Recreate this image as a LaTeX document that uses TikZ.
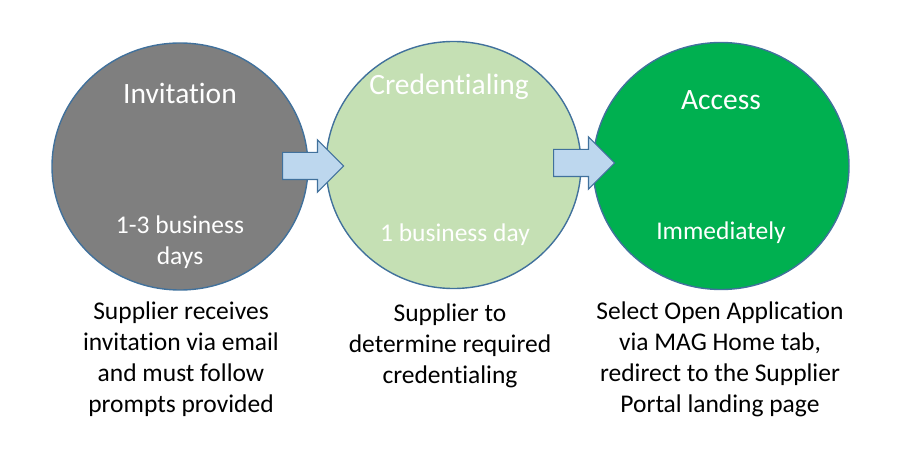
\documentclass[tikz,border=0pt]{standalone}
\usepackage{fontspec}
\setmainfont{Carlito}[Ligatures={NoCommon}]
\usetikzlibrary{
  calc,positioning,
  shapes.geometric,shapes.arrows
}
\definecolor{rimblue}{HTML}{41719C}
\definecolor{invgray}{HTML}{7F7F7F}
\definecolor{credgreen}{HTML}{C5E0B4}
\definecolor{accgreen}{HTML}{00B050}
\definecolor{arrowblue}{HTML}{BDD7EE}

\begin{document}
\begin{tikzpicture}[x=1pt,y=-1pt,
  stage/.style={ellipse,draw=rimblue,line width=1.4pt,inner sep=0pt,
    minimum width=256pt,minimum height=247pt},
  title/.style={text=white,inner sep=0pt,font=\fontsize{29.5}{35}\selectfont},
  span/.style={text=white,inner sep=0pt,align=center,font=\fontsize{25.5}{31}\selectfont},
  note/.style={text=black,inner sep=0pt,align=center,font=\fontsize{25.5}{31}\selectfont},
  blockarrow/.style={single arrow,draw=rimblue,fill=arrowblue,line width=1.2pt,
    inner xsep=0pt,inner ysep=13pt,single arrow head extend=12.5pt,
    single arrow tip angle=90,minimum height=61pt,anchor=tail}
]
\useasboundingbox (0,0) rectangle (900,465);

\node[stage,fill=invgray] (inv) at (180,166.5) {};
\node[stage,fill=credgreen,minimum width=255pt] (cred) at (453.5,165) {};
\node[stage,fill=accgreen] (acc) at (721,166) {};

\node[blockarrow] (arr1) at (282,166) {};
\node[blockarrow] (arr2) at (553,163) {};

\node[title] (invtitle) at (180,93) {Invitation};
\node[span] (invtime) at (180,242.5) {1-3 business\\days};
\node[title] (credtitle) at (449,87) {Credentialing};
\node[span] (credtime) at (455,235) {1 business day};
\node[title] (acctitle) at (721,100) {Access};
\node[span] (acctime) at (721,233) {Immediately};

\node[note] (invnote) at (181,359.5) {Supplier receives\\invitation via email\\and must follow\\prompts provided};
\node[note] (crednote) at (450,346) {Supplier to\\determine required\\credentialing};
\node[note] (accnote) at (720,359.5) {Select Open Application\\via MAG Home tab,\\redirect to the Supplier\\Portal landing page};
\end{tikzpicture}
\end{document}
